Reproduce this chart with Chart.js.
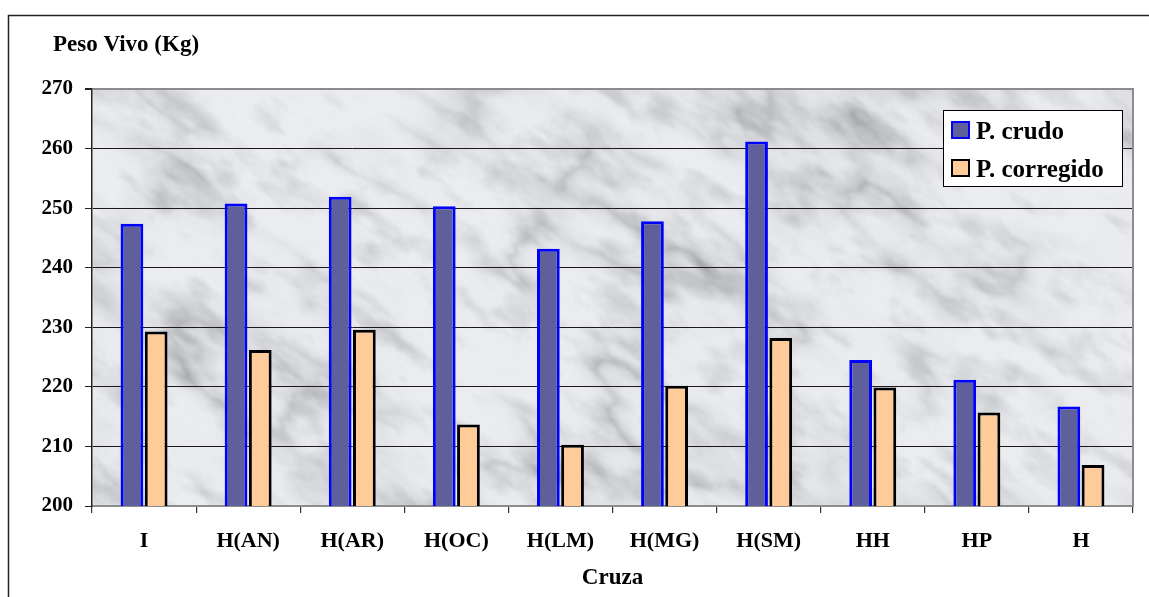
<!DOCTYPE html>
<html>
<head>
<meta charset="utf-8">
<title>Peso Vivo por Cruza</title>
<script src="https://cdn.jsdelivr.net/npm/chart.js@4.4.1/dist/chart.umd.min.js"></script>
<style>
  html, body { margin: 0; padding: 0; background: #ffffff; }
  #wrap { width: 1149px; height: 597px; position: relative; }
</style>
</head>
<body>
<div id="wrap"><canvas id="chart" width="1149" height="597"></canvas></div>
<script>
// Categorías (cruzas) y pesos vivos en kg
const categories = ['I', 'H(AN)', 'H(AR)', 'H(OC)', 'H(LM)', 'H(MG)', 'H(SM)', 'HH', 'HP', 'H'];
const pesoCrudo = [247.4, 250.8, 251.9, 250.3, 243.2, 247.8, 261.2, 224.5, 221.2, 216.7];
const pesoCorregido = [229.3, 226.2, 229.6, 213.7, 210.3, 220.2, 228.2, 219.9, 215.7, 206.9];
const yMin = 200;
const yMax = 270;
const yStep = 10;
const seriesNames = ['P. crudo', 'P. corregido'];

const SERIF = "'Liberation Serif', 'Times New Roman', serif";

// Textura de mármol determinista para el fondo del área de trazado
function buildMarble(w, h) {
  const c = document.createElement('canvas');
  c.width = w; c.height = h;
  const g = c.getContext('2d');
  const img = g.createImageData(w, h);
  const d = img.data;
  function hash(i, j) {
    let q = (Math.imul(i, 374761393) + Math.imul(j, 668265263)) | 0;
    q = Math.imul(q ^ (q >>> 13), 1274126177);
    q ^= q >>> 16;
    return (q >>> 0) / 4294967296;
  }
  function noise(x, y) {
    const xi = Math.floor(x), yi = Math.floor(y);
    const xf = x - xi, yf = y - yi;
    const u = xf * xf * (3 - 2 * xf), v = yf * yf * (3 - 2 * yf);
    const a = hash(xi, yi), b = hash(xi + 1, yi), c2 = hash(xi, yi + 1), e = hash(xi + 1, yi + 1);
    return a + (b - a) * u + (c2 - a) * v + (a - b - c2 + e) * u * v;
  }
  function fbm(x, y, oct) {
    let s = 0, amp = 0.5, f = 1, norm = 0;
    for (let o = 0; o < oct; o++) { s += amp * noise(x * f, y * f); norm += amp; f *= 2; amp *= 0.5; }
    return s / norm;
  }
  const ca = Math.cos(-0.6), sa = Math.sin(-0.6);
  for (let y = 0; y < h; y++) {
    for (let x = 0; x < w; x++) {
      const rx = x * ca - y * sa, ry = x * sa + y * ca;
      const n1 = fbm(rx / 130, ry / 55, 5);
      const ridge = 1 - Math.abs(2 * n1 - 1);
      const fade = fbm(x / 90 + 7, y / 90 + 3, 3);
      const vein = Math.pow(ridge, 5) * Math.min(1, Math.max(0, (fade - 0.3) * 2.2));
      const n2 = fbm(rx / 40 + 31, ry / 18 + 17, 4);
      const blotch = Math.max(0, n2 - 0.5) * 2;
      const grain = (hash(x, y + 9000) - 0.5) * 8;
      let gray = 237 - 48 * vein - 38 * blotch + grain;
      gray = Math.max(140, Math.min(247, gray));
      const k = (y * w + x) * 4;
      d[k] = gray - 2; d[k + 1] = gray - 1; d[k + 2] = gray + 3; d[k + 3] = 255;
    }
  }
  g.putImageData(img, 0, 0);
  return c;
}

let marbleCache = null;

const decorPlugin = {
  id: 'decor',
  beforeDraw(chart) {
    const { ctx, chartArea: a } = chart;
    ctx.save();
    ctx.fillStyle = '#ffffff';
    ctx.fillRect(0, 0, chart.width, chart.height);
    const w = Math.round(a.right - a.left), h = Math.round(a.bottom - a.top);
    if (!marbleCache || marbleCache.width !== w || marbleCache.height !== h) marbleCache = buildMarble(w, h);
    ctx.beginPath();
    ctx.rect(a.left, a.top, w, h);
    ctx.clip();
    ctx.filter = 'blur(1px)';
    ctx.drawImage(marbleCache, Math.round(a.left), Math.round(a.top));
    ctx.filter = 'none';
    ctx.restore();
    ctx.save();
    // marco exterior
    ctx.strokeStyle = '#222';
    ctx.lineWidth = 1.5;
    ctx.beginPath();
    ctx.moveTo(8.5, chart.height);
    ctx.lineTo(8.5, 15.5);
    ctx.lineTo(chart.width, 15.5);
    ctx.stroke();
    ctx.restore();
  },
  afterDraw(chart) {
    const { ctx, chartArea: a } = chart;
    ctx.save();
    // borde derecho del área de trazado
    ctx.strokeStyle = '#8c8c8c';
    ctx.lineWidth = 2;
    ctx.beginPath();
    ctx.moveTo(a.right, a.top - 1);
    ctx.lineTo(a.right, a.bottom + 1);
    ctx.stroke();

    // título del eje Y
    ctx.fillStyle = '#000';
    ctx.font = 'bold 23px ' + SERIF;
    ctx.textBaseline = 'alphabetic';
    ctx.textAlign = 'left';
    ctx.fillText('Peso Vivo (Kg)', 53, 51);

    // leyenda
    const bx = a.right - 190, by = a.top + 21, bw = 180, bh = 77;
    ctx.fillStyle = '#ffffff';
    ctx.fillRect(bx, by, bw, bh);
    ctx.strokeStyle = '#000';
    ctx.lineWidth = 1;
    ctx.strokeRect(bx + 0.5, by + 0.5, bw - 1, bh - 1);
    chart.data.datasets.forEach((ds, i) => {
      const sy = by + 11 + i * 38;
      const sx = bx + 8;
      ctx.fillStyle = ds.backgroundColor;
      ctx.fillRect(sx, sy, 19, 18);
      ctx.strokeStyle = ds.borderColor;
      ctx.lineWidth = 2;
      ctx.strokeRect(sx + 1, sy + 1, 17, 16);
      ctx.fillStyle = '#000';
      ctx.font = 'bold 25px ' + SERIF;
      ctx.textAlign = 'left';
      ctx.textBaseline = 'alphabetic';
      ctx.fillText(ds.label, sx + 25, sy + 18);
    });
    ctx.restore();
  }
};

const ctx = document.getElementById('chart').getContext('2d');
new Chart(ctx, {
  type: 'bar',
  data: {
    labels: categories,
    datasets: [
      {
        label: seriesNames[0],
        data: pesoCrudo,
        backgroundColor: '#5f5f9b',
        borderColor: '#0000ff',
        borderWidth: 3,
        borderSkipped: false
      },
      {
        label: seriesNames[1],
        data: pesoCorregido,
        backgroundColor: '#ffcc99',
        borderColor: '#000000',
        borderWidth: 3,
        borderSkipped: false
      }
    ]
  },
  options: {
    responsive: false,
    animation: false,
    devicePixelRatio: 1,
    layout: { padding: { top: 89, right: 16, bottom: 0, left: 0 } },
    datasets: { bar: { categoryPercentage: 0.465, barPercentage: 0.94 } },
    plugins: {
      legend: { display: false },
      title: { display: false },
      tooltip: { enabled: false }
    },
    scales: {
      x: {
        grid: {
          display: true,
          drawOnChartArea: false,
          drawTicks: true,
          tickLength: 7,
          tickColor: '#333',
          lineWidth: 1.2,
          offset: true
        },
        border: { display: true, color: '#8c8c8c', width: 2 },
        ticks: {
          color: '#000',
          font: { family: SERIF, size: 22, weight: 'bold' },
          padding: 15,
          maxRotation: 0,
          autoSkip: false
        },
        title: {
          display: true,
          text: 'Cruza',
          color: '#000',
          font: { family: SERIF, size: 23, weight: 'bold' },
          padding: { top: 0, bottom: 5 }
        },
        afterFit(scale) { scale.height = 91; }
      },
      y: {
        min: yMin,
        max: yMax,
        ticks: {
          stepSize: yStep,
          color: '#000',
          font: { family: SERIF, size: 21, weight: 'bold' },
          padding: 12
        },
        grid: {
          color: (c) => (c.tick && (c.tick.value === yMax || c.tick.value === yMin)) ? '#8c8c8c' : '#1a1a1a',
          lineWidth: (c) => (c.tick && c.tick.value === yMax) ? 2 : 1,
          tickColor: '#222',
          tickLength: 7,
          drawTicks: true
        },
        border: { display: true, color: '#222', width: 1.5 },
        afterFit(scale) { scale.width = 92; }
      }
    }
  },
  plugins: [decorPlugin]
});
</script>
</body>
</html>
